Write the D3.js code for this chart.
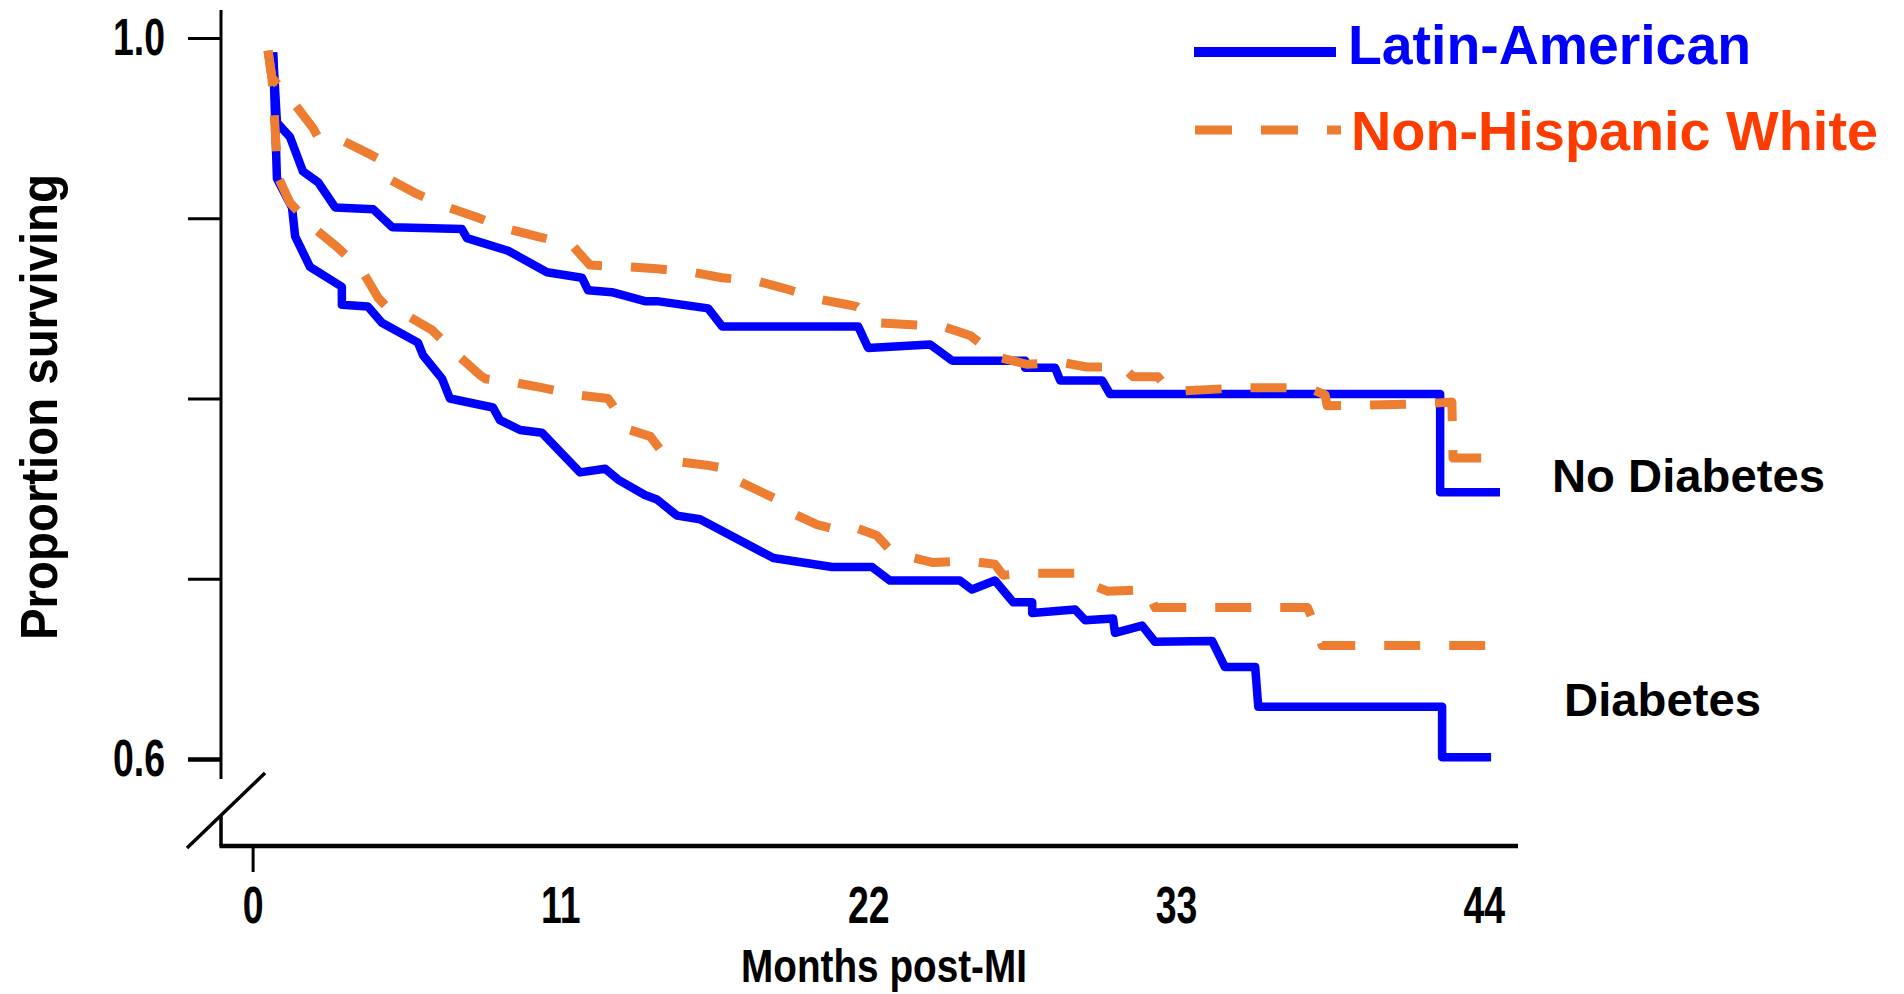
<!DOCTYPE html>
<html>
<head>
<meta charset="utf-8">
<script src="https://cdn.jsdelivr.net/npm/d3@7"></script>
<style>
body { margin: 0; background: #fff; }
text { font-family: "Liberation Sans", Arial, sans-serif; font-weight: bold; }
</style>
</head>
<body>
<script>
// survival curves: [months post-MI, proportion surviving]
var laNoDiabetes = [[0.73,0.992],[0.87,0.953],[1.34,0.945],[1.80,0.926],[2.34,0.920],[2.95,0.906],[4.31,0.905],[4.99,0.895],[7.48,0.894],[7.66,0.889],[9.13,0.882],[10.52,0.870],[11.77,0.867],[11.99,0.860],[12.84,0.859],[14.02,0.854],[14.45,0.854],[16.28,0.850],[16.78,0.840],[21.64,0.840],[22.00,0.828],[24.21,0.830],[25.00,0.821],[27.61,0.821],[27.61,0.817],[28.68,0.817],[28.86,0.810],[30.36,0.810],[30.64,0.8025],[42.44,0.8025],[42.44,0.748],[44.58,0.748]];
var nhwNoDiabetes = [[0.55,0.993],[0.69,0.978],[1.52,0.963],[2.16,0.950],[2.34,0.945],[3.23,0.943],[4.13,0.936],[4.63,0.932],[4.84,0.922],[5.81,0.914],[6.99,0.906],[7.94,0.901],[9.13,0.894],[10.16,0.890],[11.42,0.885],[12.06,0.874],[13.43,0.873],[14.45,0.872],[15.74,0.870],[16.78,0.867],[18.06,0.865],[19.03,0.861],[20.28,0.855],[21.28,0.852],[21.60,0.851],[22.35,0.842],[23.39,0.841],[24.67,0.840],[25.64,0.835],[26.64,0.823],[27.67,0.819],[28.92,0.820],[29.81,0.8175],[31.11,0.8175],[31.47,0.812],[32.36,0.812],[32.72,0.805],[33.07,0.804],[35.40,0.806],[37.72,0.806],[38.33,0.802],[38.40,0.796],[41.79,0.797],[42.86,0.798],[42.90,0.767],[44.47,0.767]];
var laDiabetes = [[0.73,0.992],[0.87,0.922],[1.41,0.906],[1.52,0.890],[2.05,0.873],[3.19,0.862],[3.19,0.852],[4.12,0.851],[4.62,0.842],[5.91,0.831],[6.09,0.824],[6.77,0.811],[7.05,0.800],[8.59,0.795],[8.84,0.788],[9.56,0.7825],[10.34,0.781],[11.70,0.759],[12.60,0.761],[13.06,0.755],[14.02,0.7465],[14.45,0.744],[15.17,0.735],[15.99,0.733],[18.61,0.7115],[20.71,0.7065],[22.14,0.7065],[22.78,0.699],[25.28,0.699],[25.71,0.694],[26.53,0.699],[27.18,0.687],[27.86,0.687],[27.86,0.681],[29.39,0.683],[29.75,0.677],[30.75,0.678],[30.82,0.670],[31.79,0.674],[32.25,0.665],[34.29,0.6655],[34.75,0.651],[35.83,0.651],[35.94,0.629],[42.51,0.629],[42.51,0.601],[44.26,0.601]];
var nhwDiabetes = [[0.55,0.993],[0.69,0.978],[0.91,0.923],[1.34,0.9085],[2.16,0.895],[3.02,0.884],[3.91,0.871],[4.48,0.856],[4.84,0.850],[5.52,0.846],[6.41,0.838],[7.34,0.824],[8.13,0.813],[8.31,0.811],[9.31,0.809],[10.34,0.806],[11.59,0.802],[12.70,0.800],[13.49,0.7825],[14.21,0.779],[14.85,0.766],[15.17,0.765],[16.24,0.763],[16.95,0.761],[17.25,0.755],[18.20,0.748],[18.74,0.744],[19.20,0.737],[20.17,0.730],[20.71,0.728],[21.42,0.729],[22.31,0.724],[22.78,0.716],[23.24,0.713],[24.32,0.709],[25.57,0.710],[26.53,0.708],[26.82,0.702],[27.61,0.703],[29.50,0.703],[29.75,0.698],[30.57,0.693],[31.97,0.694],[32.25,0.684],[37.70,0.684],[37.97,0.674],[38.22,0.663],[44.33,0.663]];

var xTicks = [0, 11, 22, 33, 44];
var yTicks = [0.6, 0.7, 0.8, 0.9, 1.0];
var yTickLabels = {"0.6": "0.6", "1": "1.0"};
var legendNames = ["Latin-American", "Non-Hispanic White"];
var groupNames = ["No Diabetes", "Diabetes"];

var blue = "#0000ff", orange = "#ed7d31", legendRed = "#ff3c00";

var width = 1904, height = 994;
var axisX = 221, axisY = 846;

var svg = d3.select("body")
            .append("svg")
            .attr("width", width)
            .attr("height", height);

// no narrow font installed: squeeze the bold face instead
function narrow(sel, k) {
    sel.each(function() {
        var len = this.getComputedTextLength();
        if (len > 0) d3.select(this).attr("textLength", len * k).attr("lengthAdjust", "spacingAndGlyphs");
    });
}

var x = d3.scaleLinear()
        .domain([0, 44])
        .range([252.6, 1483.8]);

var y = d3.scaleLinear()
        .domain([0.6, 1.0])
        .range([759, 38]);

// y axis
var gy = svg.append("g")
    .attr("transform", "translate(" + axisX + ",0)")
    .call(d3.axisLeft(y)
        .tickValues(yTicks)
        .tickSize(33)
        .tickPadding(23)
        .tickFormat(d => yTickLabels[String(+d.toFixed(1))] || ""));
gy.select(".domain").remove();
gy.selectAll(".tick line").attr("stroke", "#000").attr("stroke-width", d => d == 0.6 ? 4.5 : 3);
gy.selectAll(".tick text")
    .attr("fill", "#000")
    .style("font-family", "'Liberation Sans', Arial, sans-serif")
    .style("font-size", "52px")
    .style("font-weight", "bold")
    .call(narrow, 0.72);

svg.append("line")
    .attr("x1", axisX).attr("x2", axisX)
    .attr("y1", 10).attr("y2", 779)
    .attr("stroke", "#000").attr("stroke-width", 3);
svg.append("line")
    .attr("x1", axisX).attr("x2", axisX)
    .attr("y1", 815).attr("y2", axisY)
    .attr("stroke", "#000").attr("stroke-width", 3.5);
// axis break mark
svg.append("line")
    .attr("x1", 187).attr("y1", 848)
    .attr("x2", 265).attr("y2", 773)
    .attr("stroke", "#000").attr("stroke-width", 3.5);

// x axis
var gx = svg.append("g")
    .attr("transform", "translate(0," + axisY + ")")
    .call(d3.axisBottom(x)
        .tickValues(xTicks)
        .tickSize(0)
        .tickPadding(40));
gx.select(".domain").remove();
gx.selectAll(".tick line")
    .attr("stroke", "#000")
    .attr("stroke-width", 3)
    .attr("y2", d => d === 0 ? 26 : 0);
gx.selectAll(".tick text")
    .attr("fill", "#000")
    .style("font-family", "'Liberation Sans', Arial, sans-serif")
    .style("font-size", "52px")
    .style("font-weight", "bold")
    .call(narrow, 0.72);

svg.append("line")
    .attr("x1", axisX - 1.5).attr("x2", 1518)
    .attr("y1", axisY).attr("y2", axisY)
    .attr("stroke", "#000").attr("stroke-width", 4.5);

// axis titles
svg.append("text")
    .attr("x", 884)
    .attr("y", 982)
    .attr("text-anchor", "middle")
    .attr("textLength", 286)
    .attr("lengthAdjust", "spacingAndGlyphs")
    .style("font-size", "47px")
    .text("Months post-MI");

svg.append("text")
    .attr("transform", "translate(57,407) rotate(-90)")
    .attr("text-anchor", "middle")
    .attr("textLength", 466)
    .attr("lengthAdjust", "spacingAndGlyphs")
    .style("font-size", "52px")
    .text("Proportion surviving");

// curves
var line = d3.line()
    .x(d => x(d[0]))
    .y(d => y(d[1]));

[laNoDiabetes, laDiabetes].forEach(function(s) {
    svg.append("path")
        .datum(s)
        .attr("d", line)
        .attr("fill", "none")
        .attr("stroke", blue)
        .attr("stroke-width", 8.5)
        .attr("stroke-linejoin", "round");
});

[nhwNoDiabetes, nhwDiabetes].forEach(function(s) {
    svg.append("path")
        .datum(s)
        .attr("d", line)
        .attr("fill", "none")
        .attr("stroke", orange)
        .attr("stroke-width", 9)
        .attr("stroke-dasharray", "36,29")
        .attr("stroke-linejoin", "round");
});

// group labels
svg.append("text")
    .attr("x", 1552).attr("y", 492)
    .attr("textLength", 273)
    .attr("lengthAdjust", "spacingAndGlyphs")
    .style("font-size", "47px")
    .text(groupNames[0]);
svg.append("text")
    .attr("x", 1564).attr("y", 716)
    .attr("textLength", 197)
    .attr("lengthAdjust", "spacingAndGlyphs")
    .style("font-size", "47px")
    .text(groupNames[1]);

// legend
svg.append("line")
    .attr("x1", 1194).attr("x2", 1336)
    .attr("y1", 52).attr("y2", 52)
    .attr("stroke", blue).attr("stroke-width", 10);
svg.append("text")
    .attr("x", 1348).attr("y", 64)
    .attr("fill", blue)
    .attr("textLength", 403)
    .attr("lengthAdjust", "spacingAndGlyphs")
    .style("font-size", "55px")
    .text(legendNames[0]);

svg.append("line")
    .attr("x1", 1195).attr("x2", 1341)
    .attr("y1", 130).attr("y2", 130)
    .attr("stroke", orange).attr("stroke-width", 9)
    .attr("stroke-dasharray", "37,29");
svg.append("text")
    .attr("x", 1351).attr("y", 150)
    .attr("fill", legendRed)
    .attr("textLength", 527)
    .attr("lengthAdjust", "spacingAndGlyphs")
    .style("font-size", "56px")
    .text(legendNames[1]);
</script>
</body>
</html>
